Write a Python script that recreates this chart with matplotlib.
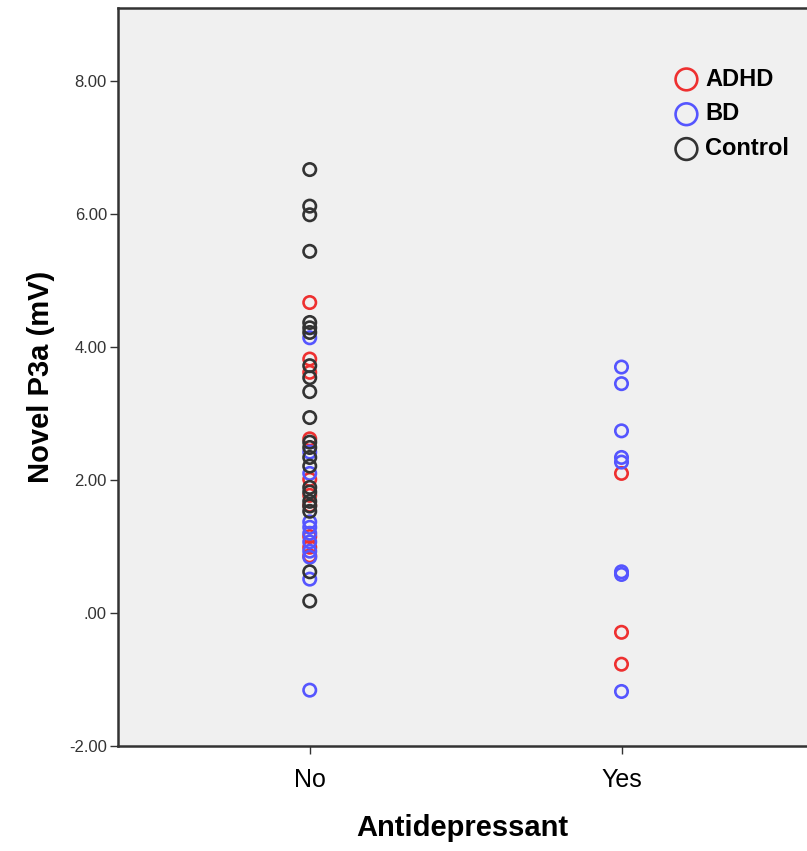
import matplotlib.pyplot as plt
import numpy as np

# Antidepressant groups on the x axis
groups = ["No", "Yes"]

# Novel P3a values (mV)
adhd_no = [4.67, 3.82, 3.62, 2.62, 2.01, 1.77, 1.62, 1.15, 0.99, 0.86]
adhd_yes = [2.10, -0.29, -0.77]
bd_no = [4.14, 2.42, 2.10, 1.37, 1.29, 1.20, 1.07, 0.93, 0.84, 0.51, -1.16]
bd_yes = [3.70, 3.45, 2.74, 2.34, 2.27, 0.62, 0.58, -1.18]
control_no = [6.67, 6.12, 5.99, 5.44, 4.37, 4.29, 4.22, 3.72, 3.54, 3.33,
              2.94, 2.57, 2.49, 2.34, 2.21, 1.89, 1.82, 1.68, 1.61, 1.53,
              0.62, 0.18]

series = [
    ("ADHD", "#ee3030", adhd_no, adhd_yes),
    ("BD", "#5555ff", bd_no, bd_yes),
    ("Control", "#333333", control_no, []),
]

fig = plt.figure(figsize=(8.07, 8.51), dpi=100)
ax = fig.add_axes([118/807, 1 - 746/851, 1 - 118/807, (746 - 8)/851])
ax.set_facecolor("#f0f0f0")

for name, color, no_vals, yes_vals in series:
    xs = [0]*len(no_vals) + [1]*len(yes_vals)
    ys = no_vals + yes_vals
    ax.scatter(xs, ys, s=80, facecolors="none", edgecolors=color,
               linewidths=1.9, label=name, zorder=3)

ax.set_xlim(-0.615, 1.595)
ax.set_ylim(-2.0, 9.1)
ax.set_xticks([0, 1])
ax.set_xticklabels(groups, fontsize=18, family="Liberation Sans")
ax.set_yticks(np.arange(-2, 9, 2))
ax.set_yticklabels(["-2.00", ".00", "2.00", "4.00", "6.00", "8.00"],
                   fontsize=12, family="Liberation Sans", color="#333333")
ax.tick_params(axis="y", length=6, width=1, color="#333333", pad=2)
ax.tick_params(axis="x", length=6, width=1, color="#333333", pad=10)

for side in ["left", "bottom", "top"]:
    ax.spines[side].set_color("#333333")
    ax.spines[side].set_linewidth(1.8)
ax.spines["right"].set_visible(False)

ax.set_xlabel("Antidepressant", fontsize=21, fontweight="bold",
              family="Liberation Sans", labelpad=16)
ax.set_ylabel("Novel P3a (mV)", fontsize=21, fontweight="bold",
              family="Liberation Sans", labelpad=10)

leg = ax.legend(loc="upper right", bbox_to_anchor=(1.005, 0.948), frameon=False,
                markerscale=1.75, handletextpad=-0.2, labelspacing=0.5,
                prop={"family": "Liberation Sans", "size": 17, "weight": "bold"})

fig.savefig("out.png", dpi=100)
